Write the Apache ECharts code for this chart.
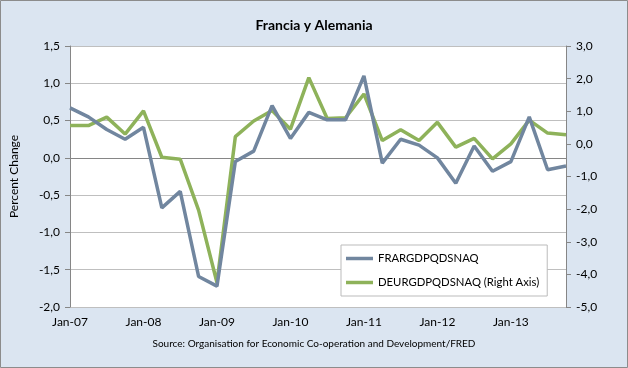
<!DOCTYPE html>
<html><head><meta charset="utf-8">
<script src="https://cdn.jsdelivr.net/npm/echarts@6/dist/echarts.min.js"></script>
<style>html,body{margin:0;padding:0;background:#fff}#c{width:628px;height:368px}</style>
</head><body><div id="c"></div>
<script>
const categories = ["Jan-07","Apr-07","Jul-07","Oct-07","Jan-08","Apr-08","Jul-08","Oct-08","Jan-09","Apr-09","Jul-09","Oct-09","Jan-10","Apr-10","Jul-10","Oct-10","Jan-11","Apr-11","Jul-11","Oct-11","Jan-12","Apr-12","Jul-12","Oct-12","Jan-13","Apr-13","Jul-13","Oct-13"];
const fra = [0.67,0.55,0.38,0.25,0.41,-0.67,-0.45,-1.59,-1.72,-0.05,0.09,0.70,0.26,0.61,0.51,0.51,1.10,-0.07,0.25,0.17,0.00,-0.34,0.16,-0.18,-0.05,0.55,-0.16,-0.11];
const deu = [0.56,0.56,0.82,0.30,1.01,-0.41,-0.47,-2.03,-4.25,0.22,0.70,1.02,0.45,2.03,0.78,0.80,1.53,0.10,0.43,0.10,0.66,-0.10,0.17,-0.46,0.00,0.73,0.33,0.28];
const leftTicks = {min:-2, max:1.5, interval:0.5};
const rightTicks = {min:-5, max:3, interval:1};
const fmt = v => v.toFixed(1).replace('.', ',');
const chart = echarts.init(document.getElementById('c'), null, {renderer:'canvas'});
const FONT = 'Lato';
chart.setOption({
  backgroundColor: '#DBE5F1',
  animation: false,
  textStyle: {fontFamily: FONT},
  title: {text: 'Francia y Alemania', left: 'center', top: 13,
    textStyle: {fontFamily: FONT, fontSize: 14, fontWeight: 'bold', color: '#000'}},
  graphic: [
    {type:'rect', shape:{x:0.5,y:0.5,width:627,height:367}, style:{fill:'none', stroke:'#8c8c8c', lineWidth:1}, z:100},
    {type:'text', left:'center', top:339, style:{text:'Source: Organisation for Economic Co-operation and Development/FRED', font:'10px Lato', fill:'#000'}}
  ],
  grid: {left:70, right:62, top:46, bottom:61, show:true, backgroundColor:'#fff', borderWidth:0},
  legend: {
    orient:'vertical', left:341, top:245,
    backgroundColor:'#fff', borderColor:'#bbb', borderWidth:1,
    padding:[8,8,8,5], itemGap:13, itemWidth:27, itemHeight:3.5, icon:'rect',
    textStyle:{fontFamily:FONT, fontSize:11.3, color:'#000'},
    data:['FRARGDPQDSNAQ','DEURGDPQDSNAQ (Right Axis)']
  },
  xAxis: {
    type:'category', data:categories, boundaryGap:false,
    axisLine:{lineStyle:{color:'#868686', width:1}},
    axisTick:{show:false},
    axisLabel:{interval:3, color:'#000', fontSize:12, margin:9},
    splitLine:{show:false}
  },
  yAxis: [
    {type:'value', min:leftTicks.min, max:leftTicks.max, interval:leftTicks.interval,
     name:'Percent Change', nameLocation:'middle', nameGap:50, nameRotate:90,
     nameTextStyle:{fontFamily:FONT, fontSize:12, color:'#000'},
     axisLine:{show:true, lineStyle:{color:'#868686'}},
     axisTick:{show:true, length:5, inside:false, lineStyle:{color:'#868686'}},
     axisLabel:{formatter:fmt, color:'#000', fontSize:12, margin:10},
     splitLine:{show:true, lineStyle:{color:'#bfbfbf', width:1}}},
    {type:'value', min:rightTicks.min, max:rightTicks.max, interval:rightTicks.interval, position:'right',
     axisLine:{show:true, lineStyle:{color:'#868686'}},
     axisTick:{show:true, length:5, lineStyle:{color:'#868686'}},
     axisLabel:{formatter:fmt, color:'#000', fontSize:12, margin:10},
     splitLine:{show:false}}
  ],
  series: [
    {name:'FRARGDPQDSNAQ', type:'line', yAxisIndex:0, data:fra, symbol:'none',
     lineStyle:{color:'#71869F', width:3.5}, itemStyle:{color:'#71869F'}, z:3,
     markLine:{silent:true, symbol:'none', label:{show:false}, lineStyle:{color:'#868686', width:1, type:'solid'}, data:[{yAxis:0}], z:1}},
    {name:'DEURGDPQDSNAQ (Right Axis)', type:'line', yAxisIndex:1, data:deu, symbol:'none',
     lineStyle:{color:'#8EB25A', width:3.5}, itemStyle:{color:'#8EB25A'}, z:2}
  ]
});
</script></body></html>
